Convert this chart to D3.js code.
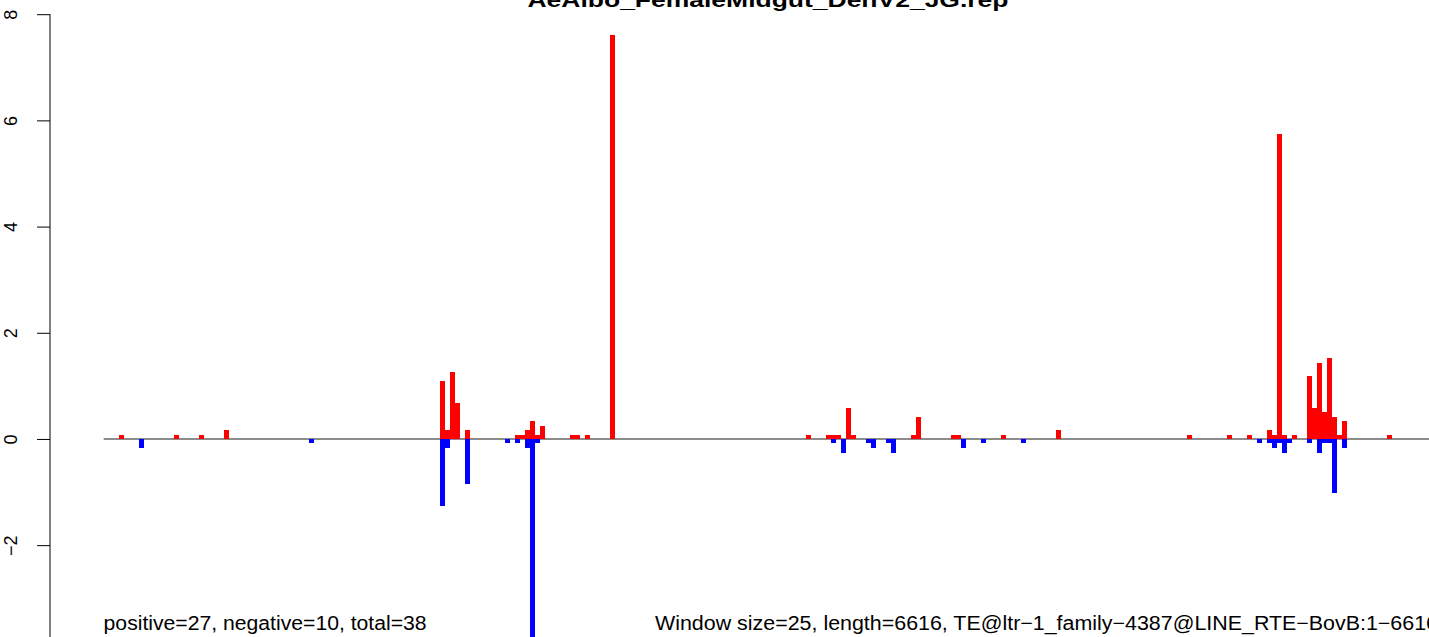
<!DOCTYPE html>
<html><head><meta charset="utf-8">
<script src="https://cdn.jsdelivr.net/npm/d3@7"></script>
<style>html,body{margin:0;padding:0;background:#fff;overflow:hidden}</style>
</head><body>
<script>
const title = "AeAlbo_FemaleMidgut_DenV2_JG.rep";
const leftNote = "positive=27, negative=10, total=38";
const rightNote = "Window size=25, length=6616, TE@ltr\u22121_family\u22124387@LINE_RTE\u2212BovB:1\u22126616";
const windowCount = 265;
const yTicks = [-2, 0, 2, 4, 6, 8];
const yTickLabels = ["\u22122", "0", "2", "4", "6", "8"];

const posWindows = [3, 14, 19, 24, 67, 68, 69, 70, 72, 82, 83, 84, 85, 86, 87, 93, 94, 96, 101,
  140, 144, 145, 146, 148, 149, 161, 162, 169, 170, 179, 190,
  216, 224, 228, 232, 233, 234, 235, 237, 240, 241, 242, 243, 244, 245, 246, 247, 256];
const posValues = [0.08, 0.08, 0.08, 0.17, 1.09, 0.17, 1.26, 0.68, 0.17, 0.08, 0.08, 0.17, 0.34, 0.08, 0.25, 0.08, 0.08, 0.08, 7.61,
  0.08, 0.08, 0.08, 0.08, 0.58, 0.08, 0.08, 0.41, 0.08, 0.08, 0.08, 0.17,
  0.08, 0.08, 0.08, 0.17, 0.08, 5.74, 0.08, 0.08, 1.19, 0.58, 1.43, 0.51, 1.53, 0.41, 0.08, 0.34, 0.08];
const negWindows = [7, 41, 67, 68, 72, 80, 82, 84, 85, 86,
  145, 147, 152, 153, 156, 157, 171, 175, 183,
  230, 232, 233, 234, 235, 236, 240, 242, 243, 244, 245, 247];
const negValues = [-0.17, -0.08, -1.27, -0.17, -0.84, -0.08, -0.08, -0.17, -4.0, -0.08,
  -0.08, -0.26, -0.08, -0.17, -0.08, -0.26, -0.17, -0.08, -0.08,
  -0.08, -0.08, -0.17, -0.08, -0.26, -0.08, -0.08, -0.26, -0.08, -0.08, -1.01, -0.17];

const W = 1429, H = 637;
const svg = d3.select("body").append("svg").attr("width", W).attr("height", H)
  .style("display", "block").style("font-family", "'Liberation Sans', Arial, Helvetica, sans-serif");

const x = d3.scaleLinear().domain([0, windowCount]).range([103.7, 103.7 + windowCount * 5.013]);
const y = d3.scaleLinear().domain([-3.73, 8]).range([637, 14.2]);

// zero line
svg.append("line").attr("x1", x(0)).attr("x2", W + 10).attr("y1", y(0)).attr("y2", y(0))
  .attr("stroke", "#666").attr("stroke-width", 1.5);

const pos = posWindows.map((w, i) => ({w, v: posValues[i]}));
const neg = negWindows.map((w, i) => ({w, v: negValues[i]}));

svg.append("g").selectAll("rect").data(pos).join("rect")
  .attr("x", d => x(d.w)).attr("width", d => x(d.w + 1) - x(d.w))
  .attr("y", d => y(d.v)).attr("height", d => y(0) - y(d.v))
  .attr("fill", "#ff0000").attr("shape-rendering", "crispEdges");

svg.append("g").selectAll("rect").data(neg).join("rect")
  .attr("x", d => x(d.w)).attr("width", d => x(d.w + 1) - x(d.w))
  .attr("y", y(0)).attr("height", d => y(d.v) - y(0))
  .attr("fill", "#0000ff").attr("shape-rendering", "crispEdges");

// y axis
const axisX = 50;
const yAxis = d3.axisLeft(y).tickValues(yTicks).tickSize(13)
  .tickFormat((d, i) => yTickLabels[i]);
const ag = svg.append("g").attr("transform", `translate(${axisX},0)`).call(yAxis);
ag.select(".domain").attr("d", `M0,${y(8)}V${H + 5}`).attr("stroke", "#000");
ag.selectAll(".tick line").attr("stroke", "#000");
ag.selectAll(".tick text")
  .attr("font-size", 18).attr("font-family", "'Liberation Sans', Arial, sans-serif")
  .attr("fill", "#000")
  .attr("x", null).attr("dy", null)
  .attr("text-anchor", "middle")
  .attr("transform", `translate(${17 - axisX},0) rotate(-90)`)
  .attr("y", 0);

// title
const t = svg.append("text").attr("x", 768).attr("y", 7).attr("text-anchor", "middle")
  .attr("font-weight", "bold").attr("font-size", 21).text(title);
t.attr("textLength", 481).attr("lengthAdjust", "spacingAndGlyphs");

// notes
const ln = svg.append("text").attr("x", 103.6).attr("y", 630).attr("font-size", 20).text(leftNote);
ln.attr("textLength", 323).attr("lengthAdjust", "spacingAndGlyphs");
const rn = svg.append("text").attr("x", 655).attr("y", 630).attr("font-size", 20).text(rightNote);
rn.attr("textLength", 783).attr("lengthAdjust", "spacingAndGlyphs");
</script>
</body></html>
